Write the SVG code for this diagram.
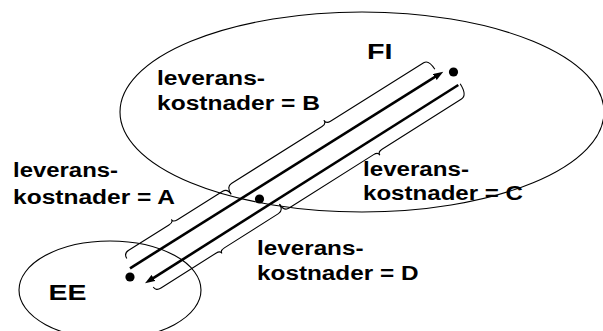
<svg xmlns="http://www.w3.org/2000/svg" width="603" height="331" viewBox="0 0 603 331">
<style>
.area{fill:none;stroke:#000;stroke-width:1.1}
.lbl{font-family:"Liberation Sans",Arial,sans-serif;font-weight:bold;font-size:19.5px;fill:#000}
.big{font-size:22px}
.flow{stroke:#000;stroke-width:2.6;fill:none}
.brace{fill:none;stroke:#000;stroke-width:1.1;stroke-linejoin:round}
.dot{fill:#000}
</style>
<defs>
<marker id="arr" markerUnits="userSpaceOnUse" markerWidth="11" markerHeight="8" refX="4" refY="3.6" orient="auto">
<path d="M0,0 L10,3.6 L0,7.2 z" fill="#000"/>
</marker>
</defs>
<rect width="603" height="331" fill="#fff"/>
<g id="node-FI">
<ellipse class="area" cx="362" cy="112" rx="242" ry="100"/>
<text class="lbl big" x="367" y="59" textLength="25.5" lengthAdjust="spacingAndGlyphs">FI</text>
<circle class="dot" cx="453.5" cy="72" r="4.6"/>
</g>
<g id="node-EE">
<ellipse class="area" cx="110" cy="290" rx="91" ry="49"/>
<text class="lbl big" x="48.5" y="299.5" textLength="38" lengthAdjust="spacingAndGlyphs">EE</text>
<circle class="dot" cx="130" cy="277" r="4.6"/>
</g>
<g id="node-mid">
<circle class="dot" cx="259.5" cy="199" r="4.6"/>
</g>
<g id="connectors">
<line class="flow" x1="130" y1="268.3" x2="438.2" y2="74.9" marker-end="url(#arr)"/>
<line class="flow" x1="458.3" y1="85" x2="150.1" y2="280.1" marker-end="url(#arr)"/>
</g>
<g id="braces">
<g transform="translate(130,268.3) rotate(-32.11)">
<path class="brace" d="M2.5,-10 Q2.5,-16 8.5,-16 L56,-16 Q61,-16 61,-19 Q61,-16 66,-16 L119,-16 Q125,-16 125,-9"/>
<path class="brace" d="M125,-9 Q125,-18 131,-18 L238,-18 Q243,-18 243,-22 Q243,-18 248,-18 L358,-18 Q364,-18 364,-6.5"/>
</g>
<g transform="translate(145,283.3) rotate(-32.33)">
<path class="brace" d="M5,7.5 Q5,12.5 11,12.5 L76,12.5 Q81,12.5 81,15.5 Q81,12.5 86,12.5 L150,12.5 Q156,12.5 156,5"/>
<path class="brace" d="M156,5 Q156,13.5 162,13.5 L262,13.5 Q267,13.5 267,17 Q267,13.5 272,13.5 L366,13.5 Q373,13.5 373,0"/>
</g>
</g>
<g id="labels">
<text class="lbl" x="13" y="177" textLength="105" lengthAdjust="spacingAndGlyphs">leverans-</text>
<text class="lbl" x="13" y="203.5" textLength="162" lengthAdjust="spacingAndGlyphs">kostnader = A</text>
<text class="lbl" x="157" y="85" textLength="108" lengthAdjust="spacingAndGlyphs">leverans-</text>
<text class="lbl" x="157" y="110" textLength="163" lengthAdjust="spacingAndGlyphs">kostnader = B</text>
<text class="lbl" x="363" y="176" textLength="106" lengthAdjust="spacingAndGlyphs">leverans-</text>
<text class="lbl" x="363" y="200" textLength="160" lengthAdjust="spacingAndGlyphs">kostnader = C</text>
<text class="lbl" x="257" y="255" textLength="106.5" lengthAdjust="spacingAndGlyphs">leverans-</text>
<text class="lbl" x="257" y="280" textLength="161.5" lengthAdjust="spacingAndGlyphs">kostnader = D</text>
</g>
</svg>
